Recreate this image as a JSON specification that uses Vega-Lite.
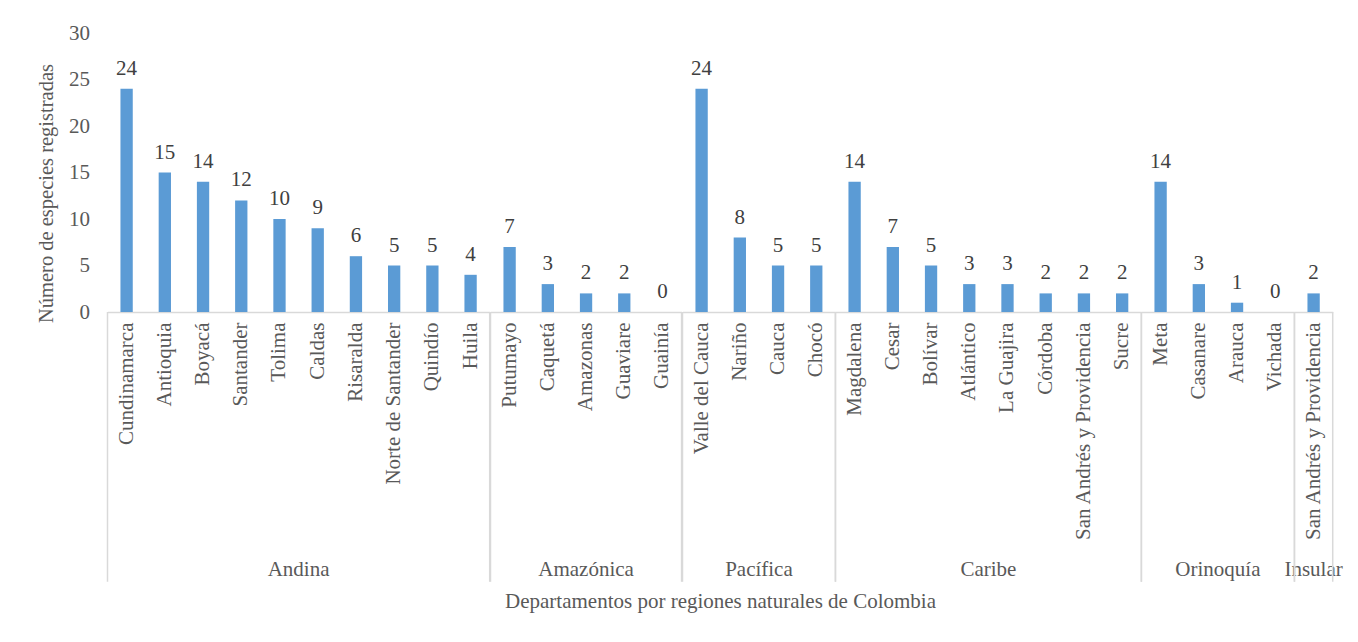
{
  "$schema": "https://vega.github.io/schema/vega-lite/v6.json",
  "padding": {"left": 36.5, "top": 22, "right": 10, "bottom": 5},
  "background": "white",
  "config": {"view": {"stroke": null}, "font": "Liberation Serif"},
  "data": {"values": [
    {"region": "Andina", "dept": "Cundinamarca", "especies": 24},
    {"region": "Andina", "dept": "Antioquia", "especies": 15},
    {"region": "Andina", "dept": "Boyacá", "especies": 14},
    {"region": "Andina", "dept": "Santander", "especies": 12},
    {"region": "Andina", "dept": "Tolima", "especies": 10},
    {"region": "Andina", "dept": "Caldas", "especies": 9},
    {"region": "Andina", "dept": "Risaralda", "especies": 6},
    {"region": "Andina", "dept": "Norte de Santander", "especies": 5},
    {"region": "Andina", "dept": "Quindío", "especies": 5},
    {"region": "Andina", "dept": "Huila", "especies": 4},
    {"region": "Amazónica", "dept": "Putumayo", "especies": 7},
    {"region": "Amazónica", "dept": "Caquetá", "especies": 3},
    {"region": "Amazónica", "dept": "Amazonas", "especies": 2},
    {"region": "Amazónica", "dept": "Guaviare", "especies": 2},
    {"region": "Amazónica", "dept": "Guainía", "especies": 0},
    {"region": "Pacífica", "dept": "Valle del Cauca", "especies": 24},
    {"region": "Pacífica", "dept": "Nariño", "especies": 8},
    {"region": "Pacífica", "dept": "Cauca", "especies": 5},
    {"region": "Pacífica", "dept": "Chocó", "especies": 5},
    {"region": "Caribe", "dept": "Magdalena", "especies": 14},
    {"region": "Caribe", "dept": "Cesar", "especies": 7},
    {"region": "Caribe", "dept": "Bolívar", "especies": 5},
    {"region": "Caribe", "dept": "Atlántico", "especies": 3},
    {"region": "Caribe", "dept": "La Guajira", "especies": 3},
    {"region": "Caribe", "dept": "Córdoba", "especies": 2},
    {"region": "Caribe", "dept": "San Andrés y Providencia", "especies": 2},
    {"region": "Caribe", "dept": "Sucre", "especies": 2},
    {"region": "Orinoquía", "dept": "Meta", "especies": 14},
    {"region": "Orinoquía", "dept": "Casanare", "especies": 3},
    {"region": "Orinoquía", "dept": "Arauca", "especies": 1},
    {"region": "Orinoquía", "dept": "Vichada", "especies": 0},
    {"region": "Insular", "dept": "San Andrés y Providencia", "especies": 2}
  ]},
  "facet": {
    "column": {
      "field": "region",
      "type": "nominal",
      "sort": ["Andina", "Amazónica", "Pacífica", "Caribe", "Orinoquía", "Insular"],
      "title": "Departamentos por regiones naturales de Colombia",
      "header": {
        "labelOrient": "bottom",
        "titleOrient": "bottom",
        "labelPadding": 247,
        "titlePadding": 1,
        "labelFont": "Liberation Serif",
        "labelFontSize": 21,
        "labelColor": "#595959",
        "titleFont": "Liberation Serif",
        "titleFontSize": 21,
        "titleFontWeight": "normal",
        "titleColor": "#595959"
      }
    }
  },
  "spacing": 0,
  "bounds": "flush",
  "resolve": {"scale": {"x": "independent"}},
  "spec": {
    "width": {"step": 38.22},
    "height": 279,
    "transform": [
      {"window": [{"op": "row_number", "as": "pos"}], "groupby": ["region"]},
      {"joinaggregate": [{"op": "count", "as": "n"}], "groupby": ["region"]}
    ],
    "layer": [
      {
        "mark": {"type": "bar", "color": "#5B9BD5", "width": {"band": 0.322}},
        "encoding": {
          "x": {
            "field": "dept", "type": "nominal", "sort": null,
            "scale": {"paddingInner": 0, "paddingOuter": 0},
            "axis": {
              "title": null, "labelAngle": -90, "ticks": false,
              "domainColor": "#D9D9D9", "domainWidth": 1.5,
              "labelPadding": 10, "labelFont": "Liberation Serif", "labelFontSize": 21,
              "labelColor": "#595959", "labelLimit": 400, "labelOverlap": false, "labelBound": false
            }
          },
          "y": {
            "field": "especies", "type": "quantitative",
            "scale": {"domain": [0, 30]},
            "axis": {
              "title": "Número de especies registradas",
              "values": [0, 5, 10, 15, 20, 25, 30],
              "grid": false, "domain": false, "ticks": false,
              "labelPadding": 18, "labelFont": "Liberation Serif", "labelFontSize": 21,
              "labelColor": "#595959",
              "titleFont": "Liberation Serif", "titleFontSize": 20.5, "titleFontWeight": "normal",
              "titleColor": "#595959", "titlePadding": 12, "titleY": 160
            }
          }
        }
      },
      {
        "mark": {"type": "text", "dy": -14, "baseline": "alphabetic", "font": "Liberation Serif", "fontSize": 21, "color": "#404040"},
        "encoding": {
          "x": {"field": "dept", "type": "nominal", "sort": null},
          "y": {"field": "especies", "type": "quantitative"},
          "text": {"field": "especies", "type": "quantitative"}
        }
      },
      {
        "mark": {"type": "rule", "color": "#D9D9D9", "strokeWidth": 1.5},
        "encoding": {
          "x": {"field": "dept", "type": "nominal", "sort": null, "bandPosition": 0},
          "y": {"datum": 0, "type": "quantitative"},
          "y2": {"datum": -29},
          "strokeOpacity": {"condition": {"test": "datum.pos == 1", "value": 1}, "value": 0}
        }
      },
      {
        "mark": {"type": "rule", "color": "#D9D9D9", "strokeWidth": 1.5},
        "encoding": {
          "x": {"field": "dept", "type": "nominal", "sort": null, "bandPosition": 1},
          "y": {"datum": 0, "type": "quantitative"},
          "y2": {"datum": -29},
          "strokeOpacity": {"condition": {"test": "datum.pos == datum.n", "value": 1}, "value": 0}
        }
      }
    ]
  }
}
